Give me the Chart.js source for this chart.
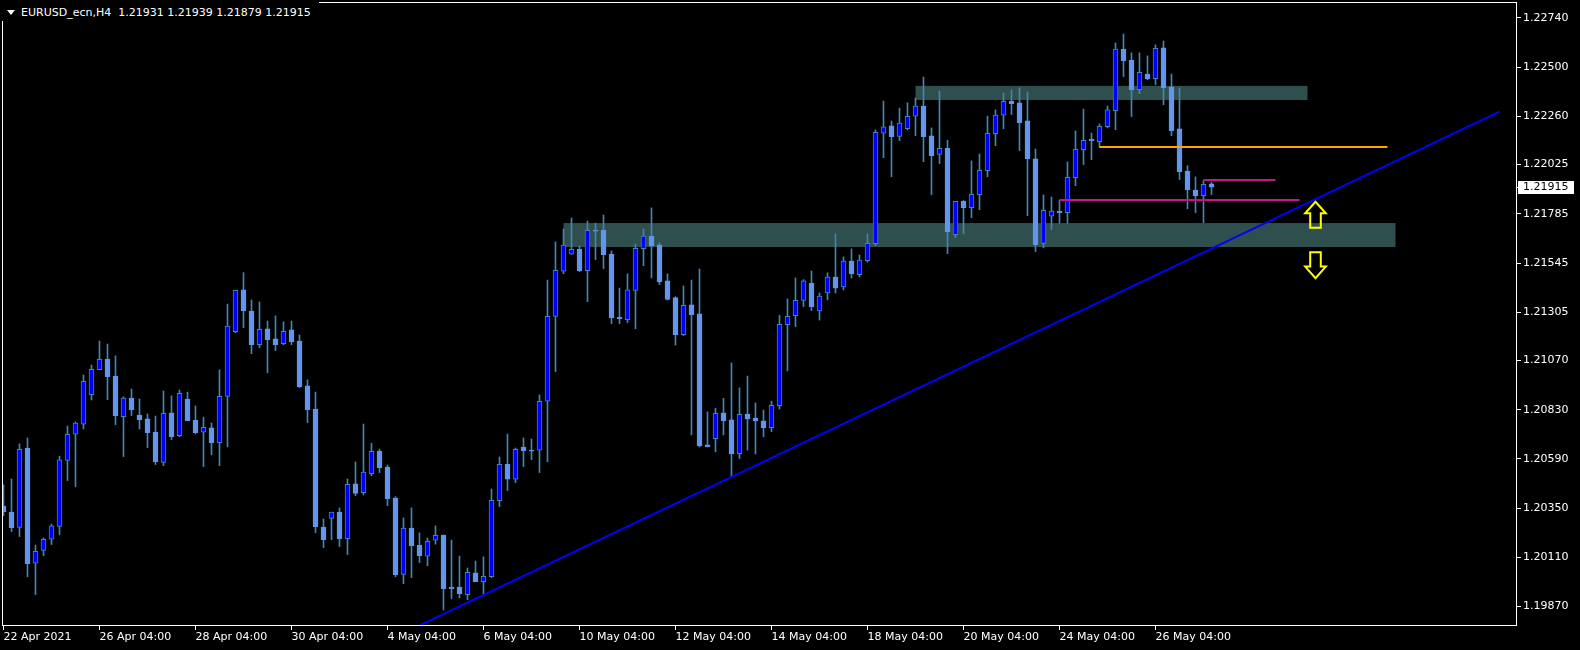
<!DOCTYPE html>
<html>
<head>
<meta charset="utf-8">
<title>EURUSD_ecn,H4</title>
<script src="https://cdn.jsdelivr.net/npm/chart.js@4.4.1/dist/chart.umd.min.js"></script>
<style>
  html, body { margin: 0; padding: 0; background: #000; }
  #wrap { position: relative; width: 1580px; height: 650px; background: #000; }
  #chart { display: block; }
  #hdr {
    position: absolute; left: 0; top: 0; height: 21px; box-sizing: border-box;
    padding: 6px 8px 0 21px; background: #000; color: #fff;
    font: 11px "DejaVu Sans", sans-serif; line-height: 13px; white-space: pre;
  }
  #hdr .tri {
    position: absolute; left: 7px; top: 10px; width: 0; height: 0;
    border-left: 4px solid transparent; border-right: 4px solid transparent; border-top: 5px solid #fff;
  }
</style>
</head>
<body>
<div id="wrap">
  <canvas id="chart" width="1580" height="650"></canvas>
  <div id="hdr"><span class="tri"></span><span id="hdrText"></span></div>
</div>
<script>
// EURUSD H4 candles, one per bar index (0 = leftmost)
const candleOpen = [
  1.20360, 1.20331, 1.20256, 1.20643, 1.20081, 1.20144, 1.20198, 1.20261, 1.20583, 1.20710,
  1.20759, 1.20903, 1.21025, 1.21077, 1.20994, 1.20796, 1.20887, 1.20804, 1.20785, 1.20721,
  1.20573, 1.20814, 1.20703, 1.20882, 1.20778, 1.20720, 1.20741, 1.20669, 1.20895, 1.21210,
  1.21414, 1.21311, 1.21147, 1.21224, 1.21175, 1.21152, 1.21219, 1.21165, 1.20946, 1.20833,
  1.20258, 1.20300, 1.20331, 1.20201, 1.20468, 1.20425, 1.20518, 1.20628, 1.20550, 1.20399,
  1.20027, 1.20253, 1.20169, 1.20115, 1.20193, 1.20217, 1.19965, 1.19965, 1.19928, 1.20034,
  1.19991, 1.20015, 1.20386, 1.20564, 1.20491, 1.20647, 1.20633, 1.20632, 1.20871, 1.21285,
  1.21505, 1.21588, 1.21612, 1.21508, 1.21706, 1.21706, 1.21589, 1.21282, 1.21269, 1.21412,
  1.21615, 1.21677, 1.21633, 1.21458, 1.21376, 1.21196, 1.21341, 1.21297, 1.20658, 1.20688,
  1.20814, 1.20780, 1.20615, 1.20809, 1.20789, 1.20775, 1.20742, 1.20849, 1.21244, 1.21288,
  1.21363, 1.21446, 1.21311, 1.21399, 1.21477, 1.21428, 1.21555, 1.21488, 1.21557, 1.21640,
  1.22178, 1.22214, 1.22163, 1.22200, 1.22261, 1.22311, 1.22165, 1.22075, 1.22105, 1.21683,
  1.21846, 1.21815, 1.21878, 1.21996, 1.22176, 1.22266, 1.22334, 1.22326, 1.22238, 1.22053,
  1.21641, 1.21773, 1.21799, 1.21791, 1.21961, 1.22098, 1.22150, 1.22137, 1.22210, 1.22288,
  1.22589, 1.22535, 1.22391, 1.22467, 1.22444, 1.22594, 1.22404, 1.22199, 1.21994, 1.21901,
  1.21874, 1.21931
];
const candleHigh = [
  1.20463, 1.20492, 1.20663, 1.20692, 1.20170, 1.20204, 1.20272, 1.20603, 1.20750, 1.20770,
  1.20999, 1.21048, 1.21165, 1.21150, 1.21092, 1.20893, 1.20931, 1.20882, 1.20809, 1.20799,
  1.20921, 1.20897, 1.20926, 1.20916, 1.20848, 1.20793, 1.20765, 1.21024, 1.21345, 1.21412,
  1.21498, 1.21365, 1.21355, 1.21262, 1.21287, 1.21258, 1.21262, 1.21194, 1.20975, 1.20916,
  1.20297, 1.20330, 1.20351, 1.20492, 1.20575, 1.20760, 1.20666, 1.20638, 1.20560, 1.20406,
  1.20302, 1.20351, 1.20229, 1.20204, 1.20263, 1.20219, 1.20194, 1.20116, 1.20058, 1.20092,
  1.20112, 1.20443, 1.20599, 1.20711, 1.20643, 1.20692, 1.20687, 1.20902, 1.21462, 1.21648,
  1.21711, 1.21765, 1.21628, 1.21750, 1.21740, 1.21779, 1.21604, 1.21423, 1.21492, 1.21638,
  1.21711, 1.21814, 1.21644, 1.21492, 1.21381, 1.21433, 1.21462, 1.21516, 1.20819, 1.20837,
  1.20886, 1.21058, 1.20936, 1.20994, 1.20863, 1.20828, 1.20872, 1.21290, 1.21370, 1.21472,
  1.21464, 1.21506, 1.21399, 1.21497, 1.21687, 1.21575, 1.21614, 1.21584, 1.21687, 1.22194,
  1.22335, 1.22238, 1.22301, 1.22326, 1.22350, 1.22452, 1.22204, 1.22384, 1.22144, 1.21846,
  1.21850, 1.22043, 1.22077, 1.22262, 1.22292, 1.22374, 1.22389, 1.22399, 1.22379, 1.22101,
  1.21877, 1.21867, 1.21852, 1.22038, 1.22189, 1.22296, 1.22179, 1.22223, 1.22311, 1.22618,
  1.22662, 1.22570, 1.22570, 1.22555, 1.22609, 1.22628, 1.22467, 1.22399, 1.22020, 1.21965,
  1.21947, 1.21939
];
const candleLow = [
  1.20313, 1.20235, 1.20211, 1.20015, 1.19928, 1.20118, 1.20172, 1.20220, 1.20484, 1.20454,
  1.20736, 1.20877, 1.21025, 1.20879, 1.20757, 1.20601, 1.20801, 1.20736, 1.20645, 1.20562,
  1.20557, 1.20684, 1.20698, 1.20776, 1.20713, 1.20552, 1.20610, 1.20557, 1.20649, 1.21205,
  1.21230, 1.21103, 1.21132, 1.21010, 1.21118, 1.21147, 1.21147, 1.20937, 1.20767, 1.20230,
  1.20157, 1.20196, 1.20162, 1.20123, 1.20410, 1.20414, 1.20508, 1.20523, 1.20362, 1.20015,
  1.19981, 1.20011, 1.20084, 1.20069, 1.20174, 1.19853, 1.19908, 1.19912, 1.19903, 1.19991,
  1.19921, 1.20011, 1.20357, 1.20435, 1.20474, 1.20552, 1.20586, 1.20523, 1.20576, 1.21015,
  1.21493, 1.21588, 1.21503, 1.21357, 1.21561, 1.21518, 1.21249, 1.21249, 1.21254, 1.21225,
  1.21532, 1.21472, 1.21440, 1.21365, 1.21145, 1.21191, 1.20707, 1.20648, 1.20648, 1.20624,
  1.20707, 1.20503, 1.20591, 1.20633, 1.20614, 1.20698, 1.20723, 1.20833, 1.21019, 1.21235,
  1.21332, 1.21313, 1.21267, 1.21365, 1.21399, 1.21414, 1.21472, 1.21477, 1.21550, 1.21630,
  1.22059, 1.21966, 1.22142, 1.22195, 1.22166, 1.22039, 1.21878, 1.22030, 1.21591, 1.21669,
  1.21688, 1.21766, 1.21805, 1.21966, 1.22117, 1.22200, 1.22269, 1.22093, 1.21776, 1.21601,
  1.21619, 1.21708, 1.21739, 1.21739, 1.21922, 1.22025, 1.22049, 1.22108, 1.22204, 1.22195,
  1.22454, 1.22259, 1.22371, 1.22439, 1.22415, 1.22317, 1.22166, 1.21952, 1.21810, 1.21791,
  1.21742, 1.21879
];
const candleClose = [
  1.20332, 1.20254, 1.20637, 1.20079, 1.20139, 1.20198, 1.20263, 1.20585, 1.20710, 1.20765,
  1.20968, 1.21027, 1.21076, 1.20991, 1.20801, 1.20886, 1.20830, 1.20781, 1.20718, 1.20576,
  1.20812, 1.20698, 1.20910, 1.20776, 1.20718, 1.20744, 1.20669, 1.20895, 1.21237, 1.21412,
  1.21313, 1.21147, 1.21222, 1.21171, 1.21147, 1.21212, 1.21162, 1.20942, 1.20830, 1.20259,
  1.20196, 1.20330, 1.20201, 1.20466, 1.20422, 1.20525, 1.20627, 1.20547, 1.20396, 1.20025,
  1.20252, 1.20167, 1.20118, 1.20188, 1.20217, 1.19957, 1.19957, 1.19933, 1.20037, 1.19991,
  1.20017, 1.20388, 1.20564, 1.20491, 1.20637, 1.20630, 1.20627, 1.20871, 1.21285, 1.21510,
  1.21632, 1.21612, 1.21508, 1.21705, 1.21701, 1.21586, 1.21279, 1.21274, 1.21414, 1.21617,
  1.21676, 1.21628, 1.21453, 1.21368, 1.21194, 1.21339, 1.21293, 1.20653, 1.20648, 1.20812,
  1.20776, 1.20614, 1.20807, 1.20785, 1.20775, 1.20741, 1.20851, 1.21246, 1.21285, 1.21363,
  1.21458, 1.21332, 1.21384, 1.21477, 1.21423, 1.21555, 1.21492, 1.21559, 1.21641, 1.22183,
  1.22209, 1.22161, 1.22227, 1.22261, 1.22311, 1.22161, 1.22069, 1.22105, 1.21698, 1.21846,
  1.21815, 1.21880, 1.21997, 1.22178, 1.22267, 1.22334, 1.22322, 1.22230, 1.22054, 1.21635,
  1.21802, 1.21798, 1.21791, 1.21963, 1.22100, 1.22144, 1.22142, 1.22212, 1.22292, 1.22588,
  1.22532, 1.22389, 1.22475, 1.22443, 1.22592, 1.22400, 1.22191, 1.21991, 1.21903, 1.21874,
  1.21929, 1.21915
];

// time axis labels (bar index -> text)
const dateTickIdx = [0, 12, 24, 36, 48, 60, 72, 84, 96, 108, 120, 132, 144];
const dateTickLabels = [
  '22 Apr 2021', '26 Apr 04:00', '28 Apr 04:00', '30 Apr 04:00', '4 May 04:00',
  '6 May 04:00', '10 May 04:00', '12 May 04:00', '14 May 04:00', '18 May 04:00',
  '20 May 04:00', '24 May 04:00', '26 May 04:00'
];
const priceTicks = [
  1.22740, 1.22500, 1.22260, 1.22025, 1.21785, 1.21545, 1.21305,
  1.21070, 1.20830, 1.20590, 1.20350, 1.20110, 1.19870
];

// drawn objects: [fromIdx, toIdx, priceTop, priceBottom]
const zoneUpper = [114, 163, 1.22409, 1.22340];
const zoneLower = [70, 174, 1.21740, 1.21623];
// horizontal segments: [fromIdx, toIdx, price]
const orangeLevel = [137, 173, 1.22113];
const magentaLevelA = [132, 162, 1.21853];
const magentaLevelB = [150, 159, 1.21950];
// trend line anchors
const trendIdx = [52, 187];
const trendPrice = [1.19778, 1.22283];
// arrows: [idx, price at top of the symbol]
const arrowUp = [164, 1.21844];
const arrowDown = [164, 1.21598];

const symbolName = 'EURUSD_ecn,H4';
const last = candleClose.length - 1;
document.getElementById('hdrText').textContent =
  symbolName + '  ' + [candleOpen[last], candleHigh[last], candleLow[last], candleClose[last]]
    .map(v => v.toFixed(5)).join(' ');

const BULL_FILL = '#0000FF';
const BEAR_FILL = '#6495ED';
const WICK = '#4682B4';
const FONT = { family: '"DejaVu Sans", sans-serif', size: 11 };

const bull = candleOpen.map((o, i) => candleClose[i] >= o);

const overlay = {
  id: 'overlay',
  beforeDatasetsDraw(chart) {
    const { ctx, chartArea: a, scales: { x, y } } = chart;
    ctx.save();
    ctx.beginPath();
    ctx.rect(a.left, a.top, a.right - a.left, a.bottom - a.top);
    ctx.clip();
    ctx.fillStyle = '#2F4F4F';
    [zoneUpper, zoneLower].forEach(z => {
      const x1 = x.getPixelForValue(z[0]), x2 = x.getPixelForValue(z[1]);
      const y1 = y.getPixelForValue(z[2]), y2 = y.getPixelForValue(z[3]);
      ctx.fillRect(x1, y1, x2 - x1, y2 - y1);
    });
    ctx.restore();
  },
  afterDatasetsDraw(chart) {
    const { ctx, chartArea: a, scales: { x, y } } = chart;
    ctx.save();
    ctx.beginPath();
    ctx.rect(a.left, a.top, a.right - a.left, a.bottom - a.top);
    ctx.clip();

    const hline = (seg, color, w) => {
      const yy = Math.round(y.getPixelForValue(seg[2]));
      ctx.strokeStyle = color;
      ctx.lineWidth = w;
      ctx.beginPath();
      ctx.moveTo(x.getPixelForValue(seg[0]), yy);
      ctx.lineTo(x.getPixelForValue(seg[1]), yy);
      ctx.stroke();
    };
    hline(orangeLevel, '#FFA500', 2);
    hline(magentaLevelA, '#C71585', 2);
    hline(magentaLevelB, '#C71585', 2);

    // trend line
    ctx.strokeStyle = '#0000FF';
    ctx.lineWidth = 2;
    ctx.beginPath();
    ctx.moveTo(x.getPixelForValue(trendIdx[0]), y.getPixelForValue(trendPrice[0]));
    ctx.lineTo(x.getPixelForValue(trendIdx[1]), y.getPixelForValue(trendPrice[1]));
    ctx.stroke();

    // arrows
    const drawArrow = (arr, up) => {
      const cx = x.getPixelForValue(arr[0]);
      const t = y.getPixelForValue(arr[1]);
      const hw = 10.3, sw = 5.3, h = 26;
      ctx.beginPath();
      if (up) {
        const hb = t + 11.6;
        ctx.moveTo(cx, t);
        ctx.lineTo(cx + hw, hb); ctx.lineTo(cx + sw, hb);
        ctx.lineTo(cx + sw, t + h); ctx.lineTo(cx - sw, t + h);
        ctx.lineTo(cx - sw, hb); ctx.lineTo(cx - hw, hb);
      } else {
        const hb = t + 14.4;
        ctx.moveTo(cx - sw, t); ctx.lineTo(cx + sw, t);
        ctx.lineTo(cx + sw, hb); ctx.lineTo(cx + hw, hb);
        ctx.lineTo(cx, t + h);
        ctx.lineTo(cx - hw, hb); ctx.lineTo(cx - sw, hb);
      }
      ctx.closePath();
      ctx.strokeStyle = '#FFFF00';
      ctx.lineWidth = 2;
      ctx.lineJoin = 'miter';
      ctx.stroke();
    };
    drawArrow(arrowUp, true);
    drawArrow(arrowDown, false);
    ctx.restore();
  },
  afterDraw(chart) {
    const { ctx, chartArea: a, scales: { y } } = chart;
    ctx.save();
    ctx.strokeStyle = '#FFFFFF';
    ctx.lineWidth = 1;
    ctx.strokeRect(a.left + 0.5, a.top + 0.5, a.right - a.left - 1, a.bottom - a.top - 1);

    // current price tag
    const py = Math.round(y.getPixelForValue(candleClose[last]));
    ctx.fillStyle = '#FFFFFF';
    ctx.fillRect(a.right + 1, py - 6, 56, 13);
    ctx.fillRect(a.right, py, 4, 1);
    ctx.fillStyle = '#000000';
    ctx.font = '11px "DejaVu Sans", sans-serif';
    ctx.textBaseline = 'middle';
    ctx.textAlign = 'left';
    ctx.fillText(candleClose[last].toFixed(5), a.right + 6, py + 0.5);
    ctx.restore();
  }
};

new Chart(document.getElementById('chart'), {
  type: 'bar',
  data: {
    datasets: [
      {
        label: 'body',
        data: candleOpen.map((o, i) => ({ x: i, y: [o, candleClose[i]] })),
        backgroundColor: bull.map(b => b ? BULL_FILL : BEAR_FILL),
        borderColor: bull.map(b => b ? WICK : BEAR_FILL),
        borderWidth: 1,
        borderSkipped: false,
        barThickness: 5,
        grouped: false,
        order: 1
      },
      {
        label: 'wick',
        data: candleLow.map((l, i) => ({ x: i, y: [l, candleHigh[i]] })),
        backgroundColor: WICK,
        borderWidth: 0,
        barThickness: 1,
        grouped: false,
        order: 2
      }
    ]
  },
  options: {
    responsive: false,
    animation: false,
    devicePixelRatio: 1,
    events: [],
    layout: { padding: { left: 2, top: 2, right: 0, bottom: 0 } },
    plugins: { legend: { display: false }, tooltip: { enabled: false } },
    scales: {
      x: {
        type: 'linear',
        position: 'bottom',
        offset: false,
        min: -0.1875,
        max: 189.1875,
        afterFit: s => { s.height = 24; s.paddingLeft = 0; s.paddingRight = 0; },
        afterBuildTicks: s => { s.ticks = dateTickIdx.map(v => ({ value: v })); },
        border: { display: false },
        grid: { display: true, offset: false, drawOnChartArea: false, drawTicks: true, tickLength: 4, color: '#FFFFFF' },
        ticks: {
          autoSkip: false, maxRotation: 0, minRotation: 0, align: 'start', padding: 1,
          color: '#FFFFFF', font: FONT,
          callback: (v, i) => dateTickLabels[i]
        }
      },
      y: {
        type: 'linear',
        position: 'right',
        min: 1.19775,
        max: 1.22818,
        afterFit: s => { s.width = 63; s.paddingTop = 0; s.paddingBottom = 0; },
        afterBuildTicks: s => { s.ticks = priceTicks.map(v => ({ value: v })); },
        border: { display: false },
        grid: { display: true, drawOnChartArea: false, drawTicks: true, tickLength: 4, color: '#FFFFFF' },
        ticks: {
          autoSkip: false, padding: 2, color: '#FFFFFF', font: FONT,
          callback: v => v.toFixed(5)
        }
      }
    }
  },
  plugins: [overlay]
});
</script>
</body>
</html>
